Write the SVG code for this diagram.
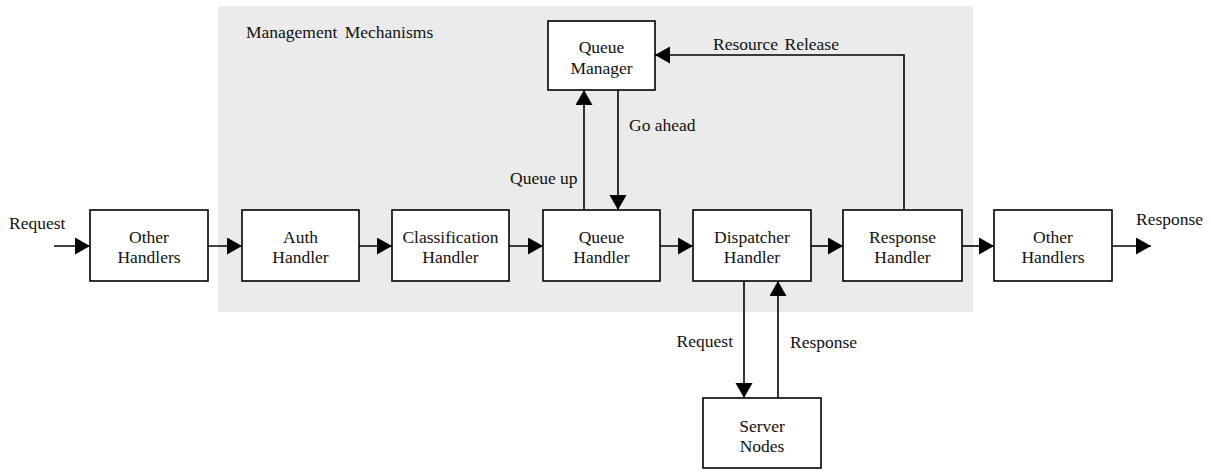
<svg xmlns="http://www.w3.org/2000/svg" width="1211" height="473" viewBox="0 0 1211 473">
<style>
.box{fill:#fff;stroke:#000;stroke-width:1.6}
.t{font-family:"Liberation Serif","Times New Roman",serif;font-size:17.5px;fill:#111}
.c{text-anchor:middle}
.ln{fill:none;stroke:#000;stroke-width:1.6}
</style>
<defs>
<marker id="ah" markerUnits="userSpaceOnUse" markerWidth="16" markerHeight="18" refX="15" refY="8.5" orient="auto">
<path d="M0,0 L15,8.5 L0,17 Z" fill="#000"/>
</marker>
</defs>
<rect id="mgmt" x="218" y="6" width="755" height="306" fill="#ebebeb"/>
<text class="t" x="246" y="38" word-spacing="3">Management Mechanisms</text>
<g id="connectors">
<line class="ln" x1="54" y1="246" x2="90" y2="246" marker-end="url(#ah)"/>
<line class="ln" x1="208" y1="246" x2="242" y2="246" marker-end="url(#ah)"/>
<line class="ln" x1="359" y1="246" x2="392" y2="246" marker-end="url(#ah)"/>
<line class="ln" x1="509" y1="246" x2="543" y2="246" marker-end="url(#ah)"/>
<line class="ln" x1="660" y1="246" x2="693" y2="246" marker-end="url(#ah)"/>
<line class="ln" x1="811" y1="246" x2="843" y2="246" marker-end="url(#ah)"/>
<line class="ln" x1="962" y1="246" x2="994" y2="246" marker-end="url(#ah)"/>
<line class="ln" x1="1112" y1="246" x2="1151" y2="246" marker-end="url(#ah)"/>
<line class="ln" x1="584" y1="210" x2="584" y2="90" marker-end="url(#ah)"/>
<line class="ln" x1="618" y1="90" x2="618" y2="210" marker-end="url(#ah)"/>
<polyline class="ln" points="904,210 904,55 655,55" marker-end="url(#ah)"/>
<line class="ln" x1="744" y1="281" x2="744" y2="398" marker-end="url(#ah)"/>
<line class="ln" x1="778" y1="398" x2="778" y2="281" marker-end="url(#ah)"/>
<text class="t" x="9" y="229">Request</text>
<text class="t" x="1136" y="225">Response</text>
<text class="t" x="510" y="184">Queue up</text>
<text class="t" x="629" y="131">Go ahead</text>
<text class="t" x="713" y="50" word-spacing="2">Resource Release</text>
<text class="t" x="733" y="347" text-anchor="end">Request</text>
<text class="t" x="790" y="348">Response</text>
</g>
<g id="other1"><rect class="box" x="90" y="210" width="118" height="71"/><text class="t c" x="149" y="243">Other</text><text class="t c" x="149" y="263">Handlers</text></g>
<g id="auth"><rect class="box" x="242" y="210" width="117" height="71"/><text class="t c" x="300.5" y="243">Auth</text><text class="t c" x="300.5" y="263">Handler</text></g>
<g id="class"><rect class="box" x="392" y="210" width="117" height="71"/><text class="t c" x="450.5" y="243">Classification</text><text class="t c" x="450.5" y="263">Handler</text></g>
<g id="queue"><rect class="box" x="543" y="210" width="117" height="71"/><text class="t c" x="601.5" y="243">Queue</text><text class="t c" x="601.5" y="263">Handler</text></g>
<g id="dispatcher"><rect class="box" x="693" y="210" width="118" height="71"/><text class="t c" x="752" y="243">Dispatcher</text><text class="t c" x="752" y="263">Handler</text></g>
<g id="response"><rect class="box" x="843" y="210" width="119" height="71"/><text class="t c" x="902.5" y="243">Response</text><text class="t c" x="902.5" y="263">Handler</text></g>
<g id="other2"><rect class="box" x="994" y="210" width="118" height="71"/><text class="t c" x="1053" y="243">Other</text><text class="t c" x="1053" y="263">Handlers</text></g>
<g id="qmanager"><rect class="box" x="548" y="21" width="107" height="69"/><text class="t c" x="601.5" y="53">Queue</text><text class="t c" x="601.5" y="74">Manager</text></g>
<g id="server"><rect class="box" x="703" y="398" width="118" height="70"/><text class="t c" x="762" y="432">Server</text><text class="t c" x="762" y="452">Nodes</text></g>
</svg>
